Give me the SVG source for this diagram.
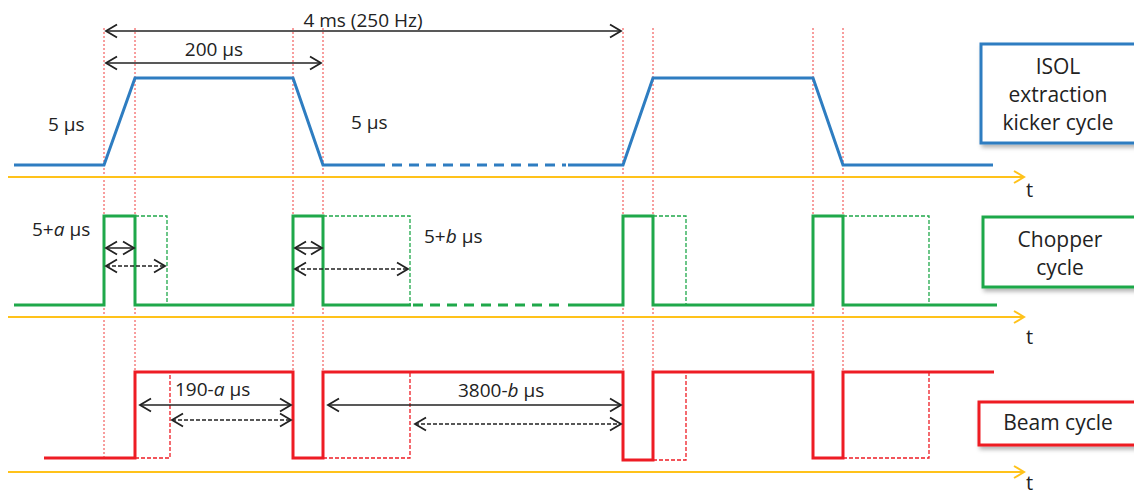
<svg xmlns="http://www.w3.org/2000/svg" width="1134" height="496" viewBox="0 0 1134 496">
<style>
text{font-family:"Open Sans","Noto Sans","Liberation Sans",sans-serif;fill:#222;}
.lbl{font-size:19px;}
.tl{font-size:20px;}
.box{font-size:21px;text-anchor:middle;}
.guide{stroke:#f03c3c;stroke-width:1;stroke-dasharray:2,2;fill:none;}
.axis{stroke:#ffc21a;stroke-width:2;fill:none;}
.blue{stroke:#2e7dc1;stroke-width:3;fill:none;stroke-linejoin:miter;}
.green{stroke:#1fa84a;stroke-width:3;fill:none;}
.greend{stroke:#1fa84a;stroke-width:1.3;fill:none;stroke-dasharray:4,2;}
.red{stroke:#ee1c24;stroke-width:3;fill:none;}
.redd{stroke:#ee1c24;stroke-width:1.3;fill:none;stroke-dasharray:4,2;}
.dim{stroke:#222;stroke-width:1.5;fill:none;marker-start:url(#ah);marker-end:url(#ah);}
.dimd{stroke:#222;stroke-width:1.5;fill:none;stroke-dasharray:4,2;marker-start:url(#ah);marker-end:url(#ah);}
</style>
<defs>
<marker id="ah" viewBox="-12 -8 14 16" markerWidth="14" markerHeight="16" refX="0" refY="0" orient="auto-start-reverse" markerUnits="userSpaceOnUse">
<path d="M-11,-6.5 L0,0 L-11,6.5" fill="none" stroke="#222" stroke-width="1.8" stroke-dasharray="none"/>
</marker>
<marker id="ay" viewBox="-12 -8 14 16" markerWidth="14" markerHeight="16" refX="0" refY="0" orient="auto" markerUnits="userSpaceOnUse">
<path d="M-10,-6 L0,0 L-10,6" fill="none" stroke="#ffc21a" stroke-width="2"/>
</marker>
<filter id="sh" x="-10%" y="-10%" width="130%" height="140%">
<feDropShadow dx="2" dy="3" stdDeviation="2" flood-color="#000" flood-opacity="0.3"/>
</filter>
</defs>
<rect width="1134" height="496" fill="#fff"/>

<g id="guides">
<line class="guide" x1="104" y1="28" x2="104" y2="458"/>
<line class="guide" x1="135" y1="28" x2="135" y2="372"/>
<line class="guide" x1="293" y1="28" x2="293" y2="372"/>
<line class="guide" x1="323" y1="28" x2="323" y2="372"/>
<line class="guide" x1="623" y1="28" x2="623" y2="372"/>
<line class="guide" x1="653" y1="28" x2="653" y2="372"/>
<line class="guide" x1="813" y1="28" x2="813" y2="372"/>
<line class="guide" x1="843" y1="28" x2="843" y2="372"/>
</g>

<g id="axes">
<line class="axis" x1="8" y1="177" x2="1024" y2="177" marker-end="url(#ay)"/>
<line class="axis" x1="8" y1="317" x2="1024" y2="317" marker-end="url(#ay)"/>
<line class="axis" x1="8" y1="472" x2="1024" y2="472" marker-end="url(#ay)"/>
<text class="tl" x="1026" y="197">t</text>
<text class="tl" x="1026" y="344">t</text>
<text class="tl" x="1026" y="490">t</text>
</g>

<g id="kicker-wave">
<polyline class="blue" points="14,165 104,165 135,78 293,78 323,165 375,165"/>
<line class="blue" x1="375" y1="165" x2="566" y2="165" stroke-dasharray="10,7"/>
<polyline class="blue" points="568,165 623,165 653,78 813,78 843,165 993,165"/>
</g>

<g id="chopper-wave">
<polyline class="green" points="14,305 104,305 104,216 135,216 135,305 293,305 293,216 323,216 323,305 411,305"/>
<line class="green" x1="413" y1="305" x2="566" y2="305" stroke-dasharray="10,7"/>
<polyline class="green" points="568,305 623,305 623,216 653,216 653,305 813,305 813,216 843,216 843,305 997,305"/>
<polyline class="greend" points="135,216 167,216 167,305"/>
<polyline class="greend" points="323,216 410,216 410,305"/>
<polyline class="greend" points="653,216 686,216 686,305"/>
<polyline class="greend" points="843,216 929,216 929,305"/>
</g>

<g id="beam-wave">
<polyline class="red" points="44,458 135,458 135,372 293,372 293,458 323,458 323,372 623,372 623,460 653,460 653,372 813,372 813,458 843,458 843,372 994,372"/>
<polyline class="redd" points="135,458 170,458 170,372"/>
<polyline class="redd" points="323,458 410,458 410,372"/>
<polyline class="redd" points="653,460 686,460 686,372"/>
<polyline class="redd" points="843,458 929,458 929,372"/>
</g>

<g id="connectors">
<line class="dim" x1="106" y1="31" x2="621" y2="31"/>
<line class="dim" x1="106" y1="63" x2="321" y2="63"/>
<line class="dim" x1="106" y1="248" x2="134" y2="248"/>
<line class="dimd" x1="106" y1="266" x2="165" y2="266"/>
<line class="dim" x1="295" y1="248" x2="322" y2="248"/>
<line class="dimd" x1="295" y1="269" x2="408" y2="269"/>
<line class="dim" x1="140" y1="405" x2="291" y2="405"/>
<line class="dimd" x1="172" y1="420" x2="291" y2="420"/>
<line class="dim" x1="328" y1="405" x2="621" y2="405"/>
<line class="dimd" x1="415" y1="424" x2="621" y2="424"/>
</g>

<g id="labels">
<text class="lbl" x="363" y="27" text-anchor="middle">4 ms (250 Hz)</text>
<text class="lbl" x="214" y="56" text-anchor="middle">200 μs</text>
<text class="lbl" x="48" y="131">5 μs</text>
<text class="lbl" x="351" y="129">5 μs</text>
<text class="lbl" x="32" y="236">5+<tspan font-style="italic">a</tspan> μs</text>
<text class="lbl" x="424" y="243">5+<tspan font-style="italic">b</tspan> μs</text>
<text class="lbl" x="175" y="396">190-<tspan font-style="italic">a</tspan> μs</text>
<text class="lbl" x="458" y="397">3800-<tspan font-style="italic">b</tspan> μs</text>
</g>

<g id="kicker-box">
<rect x="981" y="44" width="160" height="99" fill="#fff" stroke="#2e7dc1" stroke-width="3" filter="url(#sh)"/>
<text class="box" x="1058" y="74">ISOL</text>
<text class="box" x="1058" y="102">extraction</text>
<text class="box" x="1058" y="130">kicker cycle</text>
</g>

<g id="chopper-box">
<rect x="983" y="217" width="160" height="70" fill="#fff" stroke="#1fa84a" stroke-width="3" filter="url(#sh)"/>
<text class="box" x="1060" y="247">Chopper</text>
<text class="box" x="1060" y="275">cycle</text>
</g>

<g id="beam-box">
<rect x="979" y="402" width="160" height="43" fill="#fff" stroke="#ee1c24" stroke-width="3" filter="url(#sh)"/>
<text class="box" x="1058" y="430">Beam cycle</text>
</g>
</svg>
